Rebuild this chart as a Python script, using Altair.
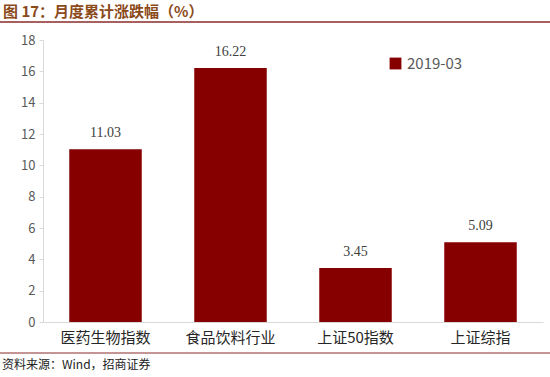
import altair as alt
import pandas as pd

categories = ["医药生物指数", "食品饮料行业", "上证50指数", "上证综指"]
values = [11.03, 16.22, 3.45, 5.09]
series = "2019-03"
y_ticks = [0, 2, 4, 6, 8, 10, 12, 14, 16, 18]

df = pd.DataFrame({"cat": categories, "val": values, "series": [series] * len(categories)})

FONT = "Noto Sans CJK SC"

x_enc = alt.X("cat:N", sort=categories, title=None,
              scale=alt.Scale(paddingInner=0.42, paddingOuter=0.21),
              axis=alt.Axis(labelAngle=0, labelFontSize=15, labelColor="#262626", labelFont=FONT,
                            ticks=False, domainColor="#d9d9d9", labelPadding=8))
y_enc = alt.Y("val:Q", title=None,
              scale=alt.Scale(domain=[0, 18], nice=False),
              axis=alt.Axis(values=y_ticks, tickCount=10, grid=False, labelFontSize=13, labelColor="#595959",
                            labelFont=FONT, domainColor="#d9d9d9", tickColor="#d9d9d9",
                            tickSize=4, labelPadding=4, labelOverlap=False, labelFlush=False))

bars = alt.Chart(df).mark_bar(color="#870000").encode(
    x=x_enc, y=y_enc,
    color=alt.Color("series:N", scale=alt.Scale(range=["#870000"]),
                    legend=alt.Legend(title=None, orient="none", legendX=345, legendY=16,
                                      symbolType="square", symbolSize=140,
                                      labelFontSize=15, labelColor="#595959", labelFont=FONT)),
)

labels = alt.Chart(df).mark_text(baseline="bottom", dy=-9, fontSize=14, color="#404040",
                                 font="Liberation Serif").encode(
    x=alt.X("cat:N", sort=categories), y="val:Q", text=alt.Text("val:Q", format=".2f")
)

deco = pd.DataFrame({"k": [0]})
title = alt.Chart(deco).mark_text(align="left", baseline="middle", fontSize=15, fontWeight="bold",
                                  color="#8B4A1A", font=FONT).encode(
    x=alt.value(-40), y=alt.value(-28), text=alt.value("图 17：月度累计涨跌幅（%）"))
top_rule = alt.Chart(deco).mark_rule(color="#8B2A2A", strokeWidth=1.5).encode(
    x=alt.value(-43), x2=alt.value(507), y=alt.value(-18))
bot_rule = alt.Chart(deco).mark_rule(color="#8B2A2A", strokeWidth=1).encode(
    x=alt.value(-43), x2=alt.value(507), y=alt.value(313))
source = alt.Chart(deco).mark_text(align="left", baseline="middle", fontSize=12, color="#222222",
                                   font=FONT).encode(
    x=alt.value(-41), y=alt.value(325), text=alt.value("资料来源：Wind，招商证券"))

chart = alt.layer(bars, labels, title, top_rule, bot_rule, source).properties(
    width=500, height=282,
    autosize=alt.AutoSizeParams(type="none"),
    padding={"left": 43, "top": 40, "right": 7, "bottom": 55},
).configure_view(stroke=None)

chart.save("out.html", embed_options={"renderer": "svg", "actions": False})
